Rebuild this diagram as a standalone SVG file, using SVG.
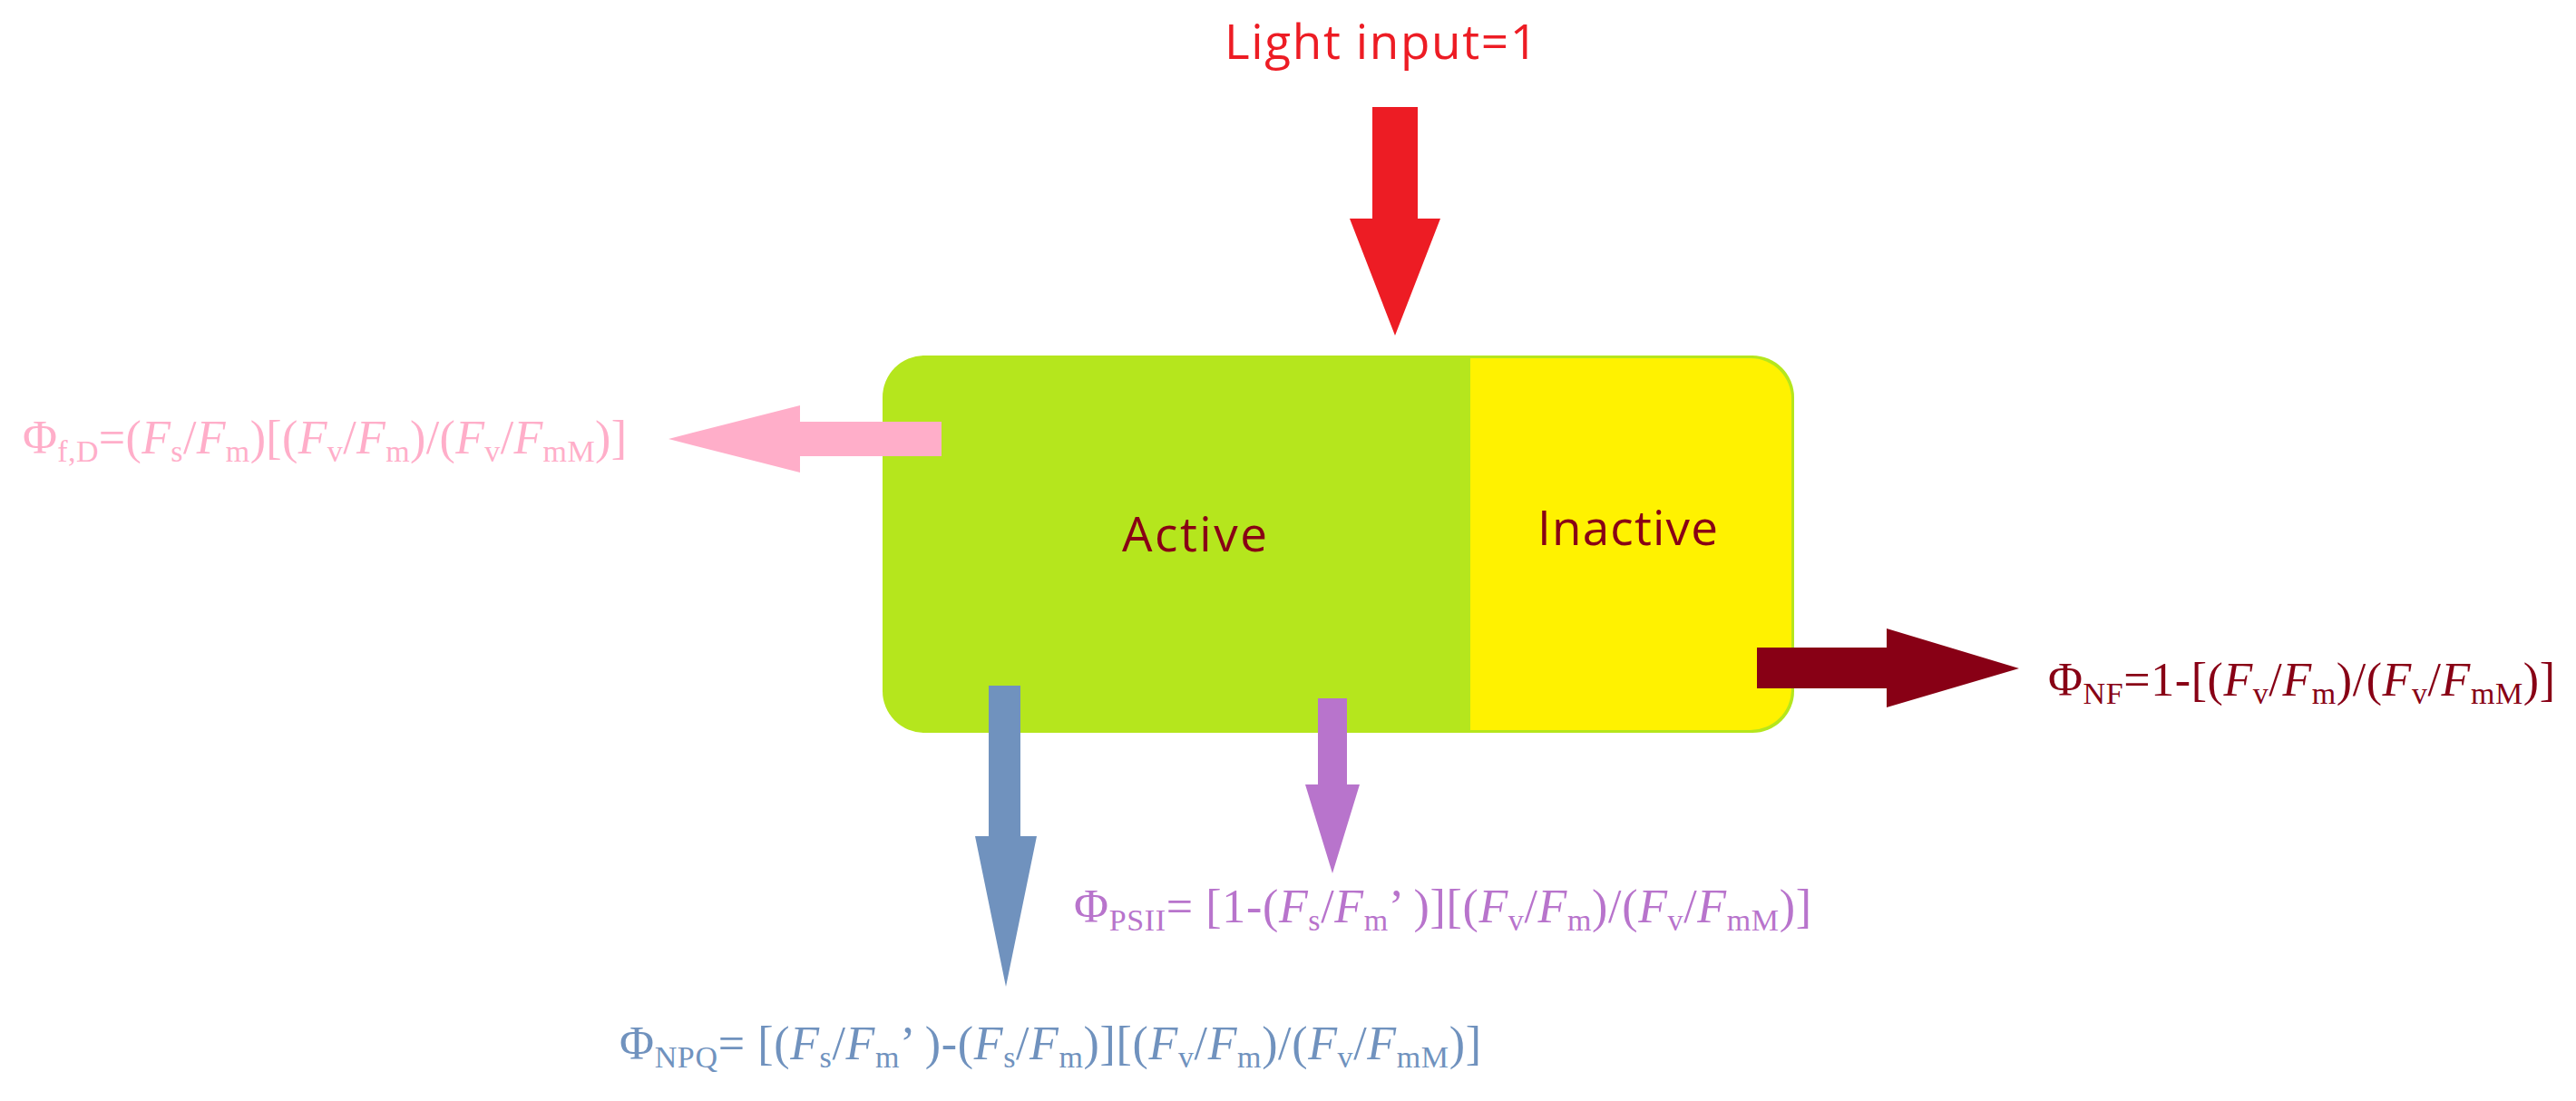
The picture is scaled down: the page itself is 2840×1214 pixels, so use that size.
<svg xmlns="http://www.w3.org/2000/svg" width="2840" height="1214" viewBox="0 0 2840 1214">
<style>
.lbl{font-family:"Open Sans","Liberation Sans",sans-serif;font-size:53px}
.f{font-family:"Liberation Serif","Times New Roman",serif;font-size:52px}
.s{font-size:34px}
.i{font-style:italic}
</style>
<rect width="2840" height="1214" fill="#ffffff"/>
<g id="box">
<rect x="973" y="392" width="1005" height="416" rx="46" ry="46" fill="#B5E61D"/>
<path d="M1621,395 H1930 A45,45 0 0 1 1975,440 V760 A45,45 0 0 1 1930,805 H1621 Z" fill="#FFF200"/>
</g>
<g id="active"><text class="lbl" x="1237" y="608" textLength="160" fill="#880015">Active</text></g>
<g id="inactive"><text class="lbl" x="1695" y="601" textLength="199" fill="#880015">Inactive</text></g>
<g id="light-input"><text class="lbl" x="1350" y="65" textLength="345" fill="#ED1C24">Light input=1</text></g>
<g id="connectors">
<polygon points="1513,118 1563,118 1563,241 1588,241 1538,370 1488,241 1513,241" fill="#ED1C24"/>
<polygon points="1038,465 882,465 882,447 737,484 882,521 882,503 1038,503" fill="#FFAEC9"/>
<polygon points="1937,714 2080,714 2080,693 2226,737 2080,780 2080,759 1937,759" fill="#880015"/>
<polygon points="1090,756 1125,756 1125,922 1143,922 1109,1088 1075,922 1090,922" fill="#7092BE"/>
<polygon points="1453,770 1485,770 1485,865 1499,865 1469,963 1439,865 1453,865" fill="#B874CC"/>
</g>
<g id="phi-fd"><text class="f" x="25" y="500" textLength="666" fill="#FFAEC9">Φ<tspan class="s" dy="9">f,D</tspan><tspan dy="-9">=(</tspan><tspan class="i">F</tspan><tspan class="s" dy="9">s</tspan><tspan dy="-9">/</tspan><tspan class="i">F</tspan><tspan class="s" dy="9">m</tspan><tspan dy="-9">)[(</tspan><tspan class="i">F</tspan><tspan class="s" dy="9">v</tspan><tspan dy="-9">/</tspan><tspan class="i">F</tspan><tspan class="s" dy="9">m</tspan><tspan dy="-9">)/(</tspan><tspan class="i">F</tspan><tspan class="s" dy="9">v</tspan><tspan dy="-9">/</tspan><tspan class="i">F</tspan><tspan class="s" dy="9">mM</tspan><tspan dy="-9">)]</tspan></text></g>
<g id="phi-nf"><text class="f" x="2258" y="767" textLength="559" fill="#880015">Φ<tspan class="s" dy="9">NF</tspan><tspan dy="-9">=1-[(</tspan><tspan class="i">F</tspan><tspan class="s" dy="9">v</tspan><tspan dy="-9">/</tspan><tspan class="i">F</tspan><tspan class="s" dy="9">m</tspan><tspan dy="-9">)/(</tspan><tspan class="i">F</tspan><tspan class="s" dy="9">v</tspan><tspan dy="-9">/</tspan><tspan class="i">F</tspan><tspan class="s" dy="9">mM</tspan><tspan dy="-9">)]</tspan></text></g>
<g id="phi-psii"><text class="f" x="1184" y="1017" textLength="813" fill="#B874CC">Φ<tspan class="s" dy="9">PSII</tspan><tspan dy="-9">= [1-(</tspan><tspan class="i">F</tspan><tspan class="s" dy="9">s</tspan><tspan dy="-9">/</tspan><tspan class="i">F</tspan><tspan class="s" dy="9">m</tspan><tspan dy="-9">’ )][(</tspan><tspan class="i">F</tspan><tspan class="s" dy="9">v</tspan><tspan dy="-9">/</tspan><tspan class="i">F</tspan><tspan class="s" dy="9">m</tspan><tspan dy="-9">)/(</tspan><tspan class="i">F</tspan><tspan class="s" dy="9">v</tspan><tspan dy="-9">/</tspan><tspan class="i">F</tspan><tspan class="s" dy="9">mM</tspan><tspan dy="-9">)]</tspan></text></g>
<g id="phi-npq"><text class="f" x="683" y="1168" textLength="950" fill="#7092BE">Φ<tspan class="s" dy="9">NPQ</tspan><tspan dy="-9">= [(</tspan><tspan class="i">F</tspan><tspan class="s" dy="9">s</tspan><tspan dy="-9">/</tspan><tspan class="i">F</tspan><tspan class="s" dy="9">m</tspan><tspan dy="-9">’ )-(</tspan><tspan class="i">F</tspan><tspan class="s" dy="9">s</tspan><tspan dy="-9">/</tspan><tspan class="i">F</tspan><tspan class="s" dy="9">m</tspan><tspan dy="-9">)][(</tspan><tspan class="i">F</tspan><tspan class="s" dy="9">v</tspan><tspan dy="-9">/</tspan><tspan class="i">F</tspan><tspan class="s" dy="9">m</tspan><tspan dy="-9">)/(</tspan><tspan class="i">F</tspan><tspan class="s" dy="9">v</tspan><tspan dy="-9">/</tspan><tspan class="i">F</tspan><tspan class="s" dy="9">mM</tspan><tspan dy="-9">)]</tspan></text></g>
</svg>
